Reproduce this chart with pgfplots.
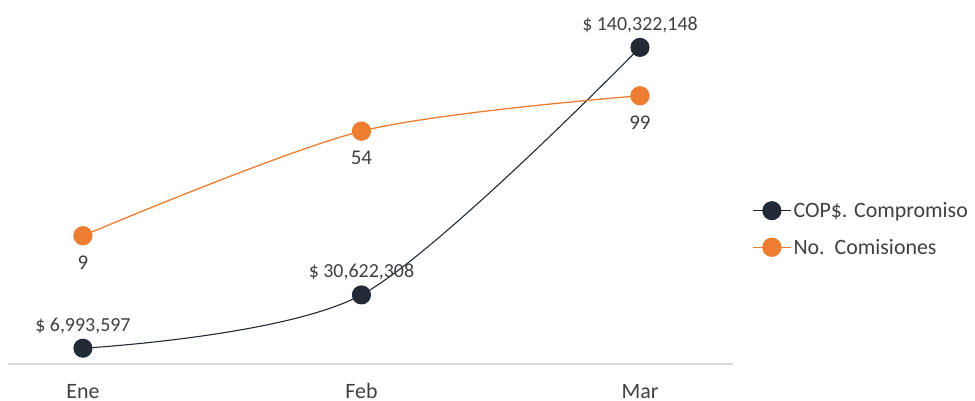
\documentclass[border=0pt]{standalone}
\usepackage{pgfplots}
\pgfplotsset{compat=1.18}
\usepackage{fontspec}
\setmainfont{Carlito}
\definecolor{navy}{HTML}{222A35}
\definecolor{orng}{HTML}{ED7D31}
\definecolor{txt}{HTML}{404040}
\definecolor{axln}{HTML}{D9D9D9}

\begin{document}
\begin{tikzpicture}[x=1bp,y=1bp]
\tikzset{lbl/.style={font=\fontsize{20}{24}\selectfont, text=txt}}
\pgfplotsset{
  base/.style={
    at={(8bp,36bp)}, anchor=south west,
    width=725bp, height=361bp, scale only axis,
    xmin=-0.269, xmax=2.334,
    clip=false,
  },
}
% primary axis: COP$ (linear)
\begin{axis}[base,
  ymin=0, ymax=160e6,
  hide y axis,
  axis x line*=bottom,
  axis line style={axln, line width=1.3bp, -},
  xtick={0,1,2}, xticklabels={Ene,Feb,Mar},
  major tick length=0pt,
  xticklabel style={font=\fontsize{22}{26}\selectfont, text=txt, anchor=base,
    inner ysep=0pt, text depth=0pt, yshift=-34bp},
]
\addplot[navy, line width=1.1bp, smooth, mark=*, mark size=9bp,
  mark options={fill=navy, draw=navy},
  point meta=explicit symbolic, nodes near coords,
  nodes near coords style={lbl, anchor=base, yshift=17bp}]
  coordinates {(0,6993597) [\$ 6,993,597] (1,30622308) [\$ 30,622,308] (2,140322148) [\$ 140,322,148]};
\end{axis}
% secondary axis: number of commissions (log)
\begin{axis}[base,
  ymode=log, ymin=1, ymax=485,
  hide axis,
  legend image code/.code={\draw[mark repeat=2,mark phase=2,#1] plot coordinates {(0bp,0bp) (19bp,0bp) (38bp,0bp)};},
  legend style={at={(1,0.374)}, anchor=west, xshift=19bp, draw=none, fill=none,
    font=\fontsize{22}{26}\selectfont, text=txt, inner sep=0pt, row sep=16bp},
  legend cell align=left,
]
\addlegendimage{navy, line width=1.1bp, mark=*, mark size=9bp, mark options={fill=navy, draw=navy}}
\addlegendentry{COP\$. Compromiso}
\addlegendimage{orng, line width=1.3bp, mark=*, mark size=9bp, mark options={fill=orng, draw=orng}}
\addlegendentry{No.\ \ Comisiones}
\addplot[orng, line width=1.3bp, smooth, mark=*, mark size=9bp, forget plot,
  mark options={fill=orng, draw=orng},
  point meta=explicit symbolic, nodes near coords,
  nodes near coords style={lbl, font=\fontsize{21}{25}\selectfont, anchor=base, yshift=-33.5bp}]
  coordinates {(0,9) [9] (1,54) [54] (2,99) [99]};
\end{axis}
\pgfresetboundingbox
\useasboundingbox (0,0) rectangle (975,400);
\end{tikzpicture}
\end{document}
